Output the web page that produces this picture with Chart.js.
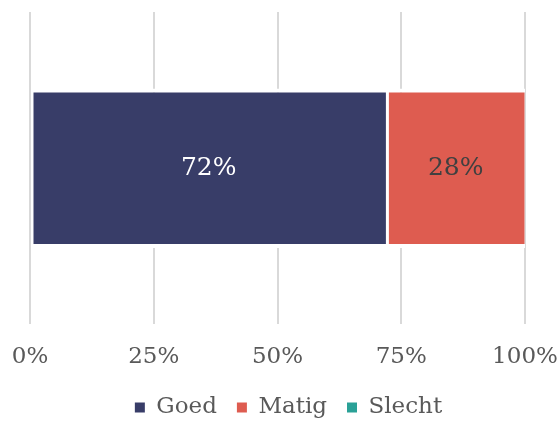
<!DOCTYPE html>
<html>
<head>
<meta charset="utf-8">
<script src="https://cdn.jsdelivr.net/npm/chart.js@4.4.0/dist/chart.umd.min.js"></script>
<style>
    html, body { margin: 0; padding: 0; background: #ffffff; }
    #wrap { width: 559px; height: 422px; }
</style>
</head>
<body>
<div id="wrap"><canvas id="myBarChart"></canvas></div>
<script>
const categories = [''];
const series_names = ['Goed', 'Matig', 'Slecht'];
const goed_values = [72];
const matig_values = [28];
const slecht_values = [0];
const tick_labels = ['0%', '25%', '50%', '75%', '100%'];

const series_colors = ['#383d68', '#de5c50', '#2aa197'];
const label_colors = ['#ffffff', '#404040', '#404040'];

// draws value labels in the middle of each bar
const bar_labels = {
    id: 'bar_labels',
    afterLayout(chart) {
        // legend sits a bit right of centre in the original
        chart.legend.left += 11;
        chart.legend.right += 11;
    },
    afterDatasetsDraw(chart) {
        const ctx = chart.ctx;
        chart.data.datasets.forEach((ds, i) => {
            const meta = chart.getDatasetMeta(i);
            meta.data.forEach((bar, j) => {
                const v = ds.data[j];
                if (!v) return;
                ctx.save();
                ctx.font = '25px "DejaVu Serif"';
                ctx.fillStyle = label_colors[i];
                ctx.textAlign = 'center';
                ctx.textBaseline = 'middle';
                ctx.fillText(v + '%', (bar.x + bar.base) / 2, bar.y);
                ctx.restore();
            });
        });
    }
};

window.onload = () => {
    const ctx = document.getElementById('myBarChart').getContext('2d');
    const all_values = [goed_values, matig_values, slecht_values];
    new Chart(ctx, {
        type: 'bar',
        data: {
            labels: categories,
            datasets: series_names.map((name, i) => ({
                label: name,
                data: all_values[i],
                backgroundColor: series_colors[i],
                borderColor: '#ffffff',
                borderWidth: {top: 4, bottom: 4, left: 2.5, right: 0.5},
                borderSkipped: false,
                categoryPercentage: 1,
                barPercentage: 0.511
            }))
        },
        options: {
            indexAxis: 'y',
            responsive: true,
            maintainAspectRatio: false,
            animation: false,
            layout: {
                padding: {top: 12, left: 30, right: 34, bottom: -7}
            },
            plugins: {
                legend: {
                    display: true,
                    position: 'bottom',
                    labels: {
                        boxWidth: 10,
                        boxHeight: 10,
                        padding: 20,
                        color: '#595959',
                        font: {family: 'DejaVu Serif', size: 23},
                        generateLabels: (chart) => Chart.defaults.plugins.legend.labels.generateLabels(chart)
                            .map(item => ({...item, lineWidth: 0, strokeStyle: item.fillStyle}))
                    }
                },
                tooltip: {enabled: false}
            },
            scales: {
                x: {
                    stacked: true,
                    min: 0,
                    max: 100,
                    border: {display: false},
                    grid: {
                        color: '#d9d9d9',
                        lineWidth: 2,
                        drawTicks: true,
                        tickLength: 19,
                        tickColor: 'rgba(0,0,0,0)'
                    },
                    ticks: {
                        stepSize: 25,
                        padding: 0,
                        color: '#595959',
                        font: {family: 'DejaVu Serif', size: 23},
                        callback: (v, i) => tick_labels[i]
                    },
                    afterFit: (scale) => {
                        scale.height += 5;
                    }
                },
                y: {
                    stacked: true,
                    display: false
                }
            }
        },
        plugins: [bar_labels]
    });
}
</script>
</body>
</html>
